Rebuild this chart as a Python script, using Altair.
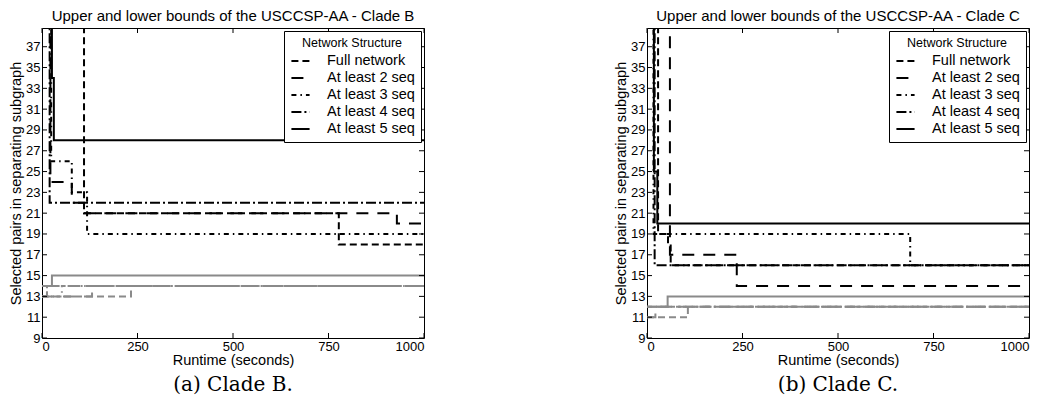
import altair as alt
import pandas as pd

SERIES = ["Full network", "At least 2 seq", "At least 3 seq", "At least 4 seq", "At least 5 seq"]
DASHES = [[7, 4], [12, 9], [5, 4, 1.5, 4], [10, 3, 2, 3], [1, 0]]

X_TICKS = [0, 250, 500, 750, 1000]
Y_TICKS = [9, 11, 13, 15, 17, 19, 21, 23, 25, 27, 29, 31, 33, 35, 37]

# ---- Clade B : upper bounds (black) ----
B_UP_FULL_X = [109, 110, 777, 1000]
B_UP_FULL_Y = [40, 21, 18, 18]
B_UP_2_X = [21, 22, 78, 110, 929, 1000]
B_UP_2_Y = [40, 24, 22, 21, 20, 20]
B_UP_3_X = [23, 24, 78, 118, 1000]
B_UP_3_Y = [40, 26, 23, 19, 19]
B_UP_4_X = [19, 20, 1000]
B_UP_4_Y = [40, 22, 22]
B_UP_5_X = [25, 26, 31, 1000]
B_UP_5_Y = [40, 34, 28, 28]

# ---- Clade B : lower bounds (grey) ----
B_LO_FULL_X = [0, 233, 1000]
B_LO_FULL_Y = [13, 14, 14]
B_LO_2_X = [0, 131, 1000]
B_LO_2_Y = [13, 14, 14]
B_LO_3_X = [0, 52, 1000]
B_LO_3_Y = [13, 14, 14]
B_LO_4_X = [0, 13, 1000]
B_LO_4_Y = [13, 14, 14]
B_LO_5_X = [0, 26, 1000]
B_LO_5_Y = [14, 15, 15]

# ---- Clade C : upper bounds (black) ----
C_UP_FULL_X = [28, 29, 55, 62, 1000]
C_UP_FULL_Y = [40, 19, 18, 16, 16]
C_UP_2_X = [59, 60, 235, 1000]
C_UP_2_Y = [40, 17, 14, 14]
C_UP_3_X = [16, 17, 689, 1000]
C_UP_3_Y = [40, 19, 16, 16]
C_UP_4_X = [19, 20, 1000]
C_UP_4_Y = [40, 16, 16]
C_UP_5_X = [17, 18, 27, 1000]
C_UP_5_Y = [40, 25, 20, 20]

# ---- Clade C : lower bounds (grey) ----
C_LO_FULL_X = [0, 107, 1000]
C_LO_FULL_Y = [11, 12, 12]
C_LO_2_X = [0, 22, 1000]
C_LO_2_Y = [11, 12, 12]
C_LO_3_X = [0, 1000]
C_LO_3_Y = [12, 12]
C_LO_4_X = [0, 1000]
C_LO_4_Y = [12, 12]
C_LO_5_X = [0, 54, 1000]
C_LO_5_Y = [12, 13, 13]

W, H = 382, 310
FONT = "Liberation Sans"


def make(pairs):
    rows = []
    for name, (xs, ys) in zip(SERIES, pairs):
        for i, (x, y) in enumerate(zip(xs, ys)):
            rows.append({"series": name, "x": x, "y": y, "i": i})
    return pd.DataFrame(rows)


xscale = alt.Scale(domain=[0, 1000], nice=False, zero=False)
yscale = alt.Scale(domain=[9, 38.8], nice=False, zero=False)
AX = dict(domain=False, ticks=False, grid=False, labelFont=FONT, labelFontSize=13,
          labelColor="black", labelPadding=2, titleFont=FONT, titleFontSize=14.5,
          titleFontWeight="normal", titleColor="black")
xaxis = alt.Axis(values=X_TICKS, title="Runtime (seconds)", format="d", titlePadding=0, **AX)
yaxis = alt.Axis(values=Y_TICKS, title="Selected pairs in separating subgraph",
                 titlePadding=2, **AX)
legend = alt.Legend(
    title="Network Structure", orient="top-right", offset=3,
    fillColor="white", strokeColor="black", padding=6,
    titleFontSize=12.5, titleFontWeight="normal", titleFont=FONT,
    titleAnchor="middle", titleColor="black", titlePadding=1,
    labelFontSize=14.5, labelFont=FONT, labelColor="black",
    symbolType="stroke", symbolStrokeWidth=2, symbolSize=330,
    symbolStrokeColor="black", rowPadding=0, labelOffset=16,
    cornerRadius=0,
)


def panel(title, caption, up, low):
    df_up = make(up)
    df_low = make(low)
    dash_scale = alt.Scale(domain=SERIES, range=DASHES)
    X = lambda f: alt.X(f, scale=xscale, axis=xaxis)
    Y = lambda f: alt.Y(f, scale=yscale, axis=yaxis)
    upper = alt.Chart(df_up).mark_line(
        interpolate="step-after", clip=True, color="black", strokeWidth=2
    ).encode(
        x=X("x:Q"), y=Y("y:Q"),
        strokeDash=alt.StrokeDash("series:N", scale=dash_scale, sort=SERIES, legend=legend),
        order="i:Q",
    )
    lower = alt.Chart(df_low).mark_line(
        interpolate="step-after", clip=True, color="#8a8a8a", strokeWidth=2
    ).encode(
        x=X("x:Q"), y=Y("y:Q"),
        strokeDash=alt.StrokeDash("series:N", scale=dash_scale, sort=SERIES, legend=legend),
        order="i:Q",
    )
    ytk = pd.DataFrame({"x": [0] * len(Y_TICKS), "y": Y_TICKS})
    xtk = pd.DataFrame({"x": X_TICKS, "y": [9] * len(X_TICKS)})
    lt = alt.Chart(ytk).mark_rule(color="black").encode(
        y=Y("y:Q"), x=alt.value(0), x2=alt.value(5))
    rt = alt.Chart(ytk).mark_rule(color="black").encode(
        y=Y("y:Q"), x=alt.value(W - 5), x2=alt.value(W))
    bt = alt.Chart(xtk).mark_rule(color="black").encode(
        x=X("x:Q"), y=alt.value(H - 5), y2=alt.value(H))
    tt = alt.Chart(xtk).mark_rule(color="black").encode(
        x=X("x:Q"), y=alt.value(0), y2=alt.value(5))
    cap = alt.Chart(pd.DataFrame({"t": [caption]})).mark_text(
        font="DejaVu Serif", fontSize=20, align="center", baseline="middle", color="black"
    ).encode(text="t:N", x=alt.value(W / 2), y=alt.value(H + 47))
    return alt.layer(upper, lower, lt, rt, bt, tt, cap).properties(
        width=W, height=H,
        title=alt.TitleParams(title, fontSize=15, font=FONT, fontWeight="normal",
                              offset=4, anchor="middle", color="black"),
    )


pa = panel("Upper and lower bounds of the USCCSP-AA - Clade B", "(a) Clade B.",
           [(B_UP_FULL_X, B_UP_FULL_Y), (B_UP_2_X, B_UP_2_Y), (B_UP_3_X, B_UP_3_Y),
            (B_UP_4_X, B_UP_4_Y), (B_UP_5_X, B_UP_5_Y)],
           [(B_LO_FULL_X, B_LO_FULL_Y), (B_LO_2_X, B_LO_2_Y), (B_LO_3_X, B_LO_3_Y),
            (B_LO_4_X, B_LO_4_Y), (B_LO_5_X, B_LO_5_Y)])
pb = panel("Upper and lower bounds of the USCCSP-AA - Clade C", "(b) Clade C.",
           [(C_UP_FULL_X, C_UP_FULL_Y), (C_UP_2_X, C_UP_2_Y), (C_UP_3_X, C_UP_3_Y),
            (C_UP_4_X, C_UP_4_Y), (C_UP_5_X, C_UP_5_Y)],
           [(C_LO_FULL_X, C_LO_FULL_Y), (C_LO_2_X, C_LO_2_Y), (C_LO_3_X, C_LO_3_Y),
            (C_LO_4_X, C_LO_4_Y), (C_LO_5_X, C_LO_5_Y)])

chart = alt.hconcat(pa, pb, spacing=188).resolve_scale(
    strokeDash="independent"
).resolve_legend(strokeDash="independent").properties(
    padding={"left": 0, "right": 0, "top": 0, "bottom": 0}
).configure(background="white").configure_view(stroke="black", strokeWidth=1)

chart.save("out.html", embed_options={"renderer": "svg", "actions": False})
